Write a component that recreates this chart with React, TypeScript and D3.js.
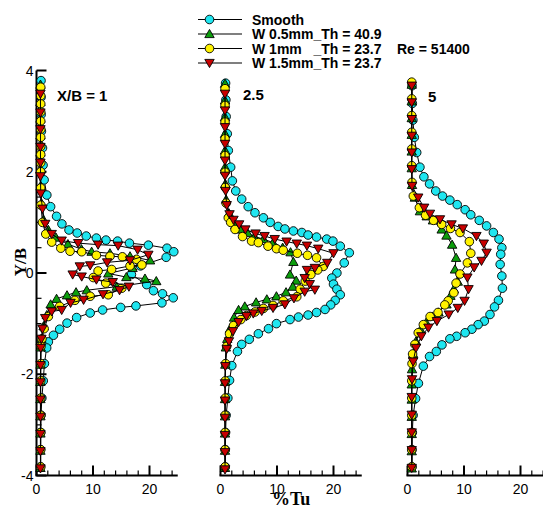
import React from "react";
import * as d3 from "d3";

type Pt = [number, number]; // [%Tu, Y/B]

// ---- tick values -------------------------------------------------------
const xMajorTicks = [0, 10, 20];
const xMinorTicks = [2, 4, 6, 8, 12, 14, 16, 18, 22, 24];
const yMajorTicks = [-4, -2, 0, 2, 4];
const yMinorTicks = [-3.5, -3, -2.5, -1.5, -1, -0.5, 0.5, 1, 1.5, 2.5, 3, 3.5];

// ---- labels -------------------------------------------------------------
const stationLabels = ["X/B = 1", "2.5", "5"];
const seriesNames = [
  "Smooth",
  "W 0.5mm_Th = 40.9",
  "W 1mm   _Th = 23.7",
  "W 1.5mm_Th = 23.7",
];
const reynoldsLabel = "Re = 51400";

// ---- X/B = 1 ------------------------------------------------------------
const smoothXB1: Pt[] = [
  [0.8, 3.8], [0.8, 3.47], [0.82, 3.13], [0.87, 2.8], [1.06, 2.47], [1.16, 2.13], [1.35, 1.84],
  [1.83, 1.54], [2.5, 1.31], [3.55, 1.12], [4.5, 0.97], [5.75, 0.85], [7.2, 0.79], [8.8, 0.73],
  [10.6, 0.69], [12.3, 0.65], [14.35, 0.63], [16.45, 0.59], [19.8, 0.55], [23.1, 0.49], [24.3, 0.42],
  [22.95, 0.31], [18.4, 0.14], [16.8, -0.03], [19.5, -0.23], [20.7, -0.35], [22.3, -0.41], [24.2, -0.49],
  [22.2, -0.59], [17.6, -0.65], [14.9, -0.68], [11.7, -0.73], [9.5, -0.79], [7.1, -0.88], [5.4, -0.99],
  [4.1, -1.11], [3.0, -1.23], [2.1, -1.36], [1.8, -1.48], [1.4, -1.79], [1.2, -2.13], [0.95, -2.47],
  [0.8, -2.81], [0.75, -3.15], [0.72, -3.49], [0.72, -3.83],
];
const w05XB1: Pt[] = [
  [0.7, 3.72], [0.7, 3.38], [0.7, 3.05], [0.7, 2.72], [0.7, 2.38], [0.7, 2.05], [0.73, 1.72],
  [0.87, 1.38], [1.25, 1.05], [2.1, 0.85], [3.45, 0.7], [5.56, 0.57], [7.95, 0.47], [9.76, 0.42],
  [13.0, 0.39], [16.55, 0.33], [20.1, 0.25], [17.0, 0.1], [12.7, -0.01], [15.9, -0.08], [19.2, -0.11],
  [21.2, -0.16], [14.2, -0.27], [8.9, -0.34], [7.0, -0.38], [5.4, -0.44], [3.55, -0.51], [2.5, -0.62],
  [1.83, -0.83], [1.25, -1.05], [0.87, -1.3], [0.75, -1.47], [0.72, -1.81], [0.7, -2.15], [0.7, -2.49],
  [0.7, -2.83], [0.7, -3.17], [0.7, -3.51], [0.7, -3.85],
];
const w10XB1: Pt[] = [
  [0.75, 3.67], [0.75, 3.5], [0.75, 3.34], [0.75, 3.18], [0.75, 3.0], [0.75, 2.84], [0.75, 2.68],
  [0.75, 2.5], [0.75, 2.34], [0.75, 2.18], [0.75, 2.0], [0.75, 1.68], [0.78, 1.34], [1.06, 1.0],
  [1.64, 0.77], [2.69, 0.61], [4.3, 0.49], [5.94, 0.43], [8.0, 0.42], [10.6, 0.35], [13.0, 0.33],
  [15.2, 0.32], [17.7, 0.27], [18.65, 0.16], [16.55, 0.14], [13.3, 0.07], [10.9, 0.04], [10.05, -0.09],
  [12.25, -0.2], [15.1, -0.3], [12.7, -0.43], [9.5, -0.46], [6.8, -0.54], [4.1, -0.66], [2.1, -0.86],
  [1.35, -1.1], [0.97, -1.3], [0.8, -1.45], [0.78, -1.79], [0.75, -2.13], [0.75, -2.47], [0.75, -2.81],
  [0.75, -3.15], [0.75, -3.49], [0.75, -3.83],
];
const w15XB1: Pt[] = [
  [0.7, 3.54], [0.7, 3.17], [0.7, 2.84], [0.7, 2.49], [0.7, 2.18], [0.7, 1.91], [0.75, 1.57],
  [1.06, 1.27], [1.54, 0.97], [2.69, 0.77], [4.46, 0.64], [7.37, 0.59], [10.9, 0.56], [14.45, 0.54],
  [17.9, 0.46], [19.8, 0.36], [16.55, 0.25], [12.5, 0.21], [9.5, 0.15], [7.66, 0.13], [6.4, -0.03],
  [8.0, -0.07], [10.6, -0.13], [13.5, -0.18], [16.36, -0.27], [14.7, -0.34], [11.77, -0.42], [8.33, -0.53],
  [6.03, -0.59], [4.46, -0.73], [2.69, -0.76], [1.54, -0.89], [1.06, -1.1], [0.87, -1.3], [0.75, -1.48],
  [0.72, -1.82], [0.7, -2.16], [0.7, -2.5], [0.7, -2.84], [0.7, -3.18], [0.7, -3.52], [0.7, -3.86],
];

// ---- X/B = 2.5 ----------------------------------------------------------
const smoothXB25: Pt[] = [
  [0.9, 3.75], [0.95, 3.42], [1.0, 3.09], [1.2, 2.75], [1.38, 2.42], [1.8, 2.09], [2.1, 1.82],
  [2.7, 1.62], [3.75, 1.46], [4.9, 1.31], [6.1, 1.19], [7.6, 1.09], [8.8, 1.0], [10.2, 0.92],
  [11.4, 0.87], [12.9, 0.83], [14.4, 0.8], [15.5, 0.75], [17, 0.71], [18.8, 0.67], [19.9, 0.63],
  [21.2, 0.53], [22.8, 0.4], [21.9, 0.2], [20.6, 0.0], [19.7, -0.1], [20, -0.22], [20.6, -0.32],
  [21.2, -0.43], [20.3, -0.54], [19.5, -0.63], [18.5, -0.72], [17, -0.78], [15.5, -0.83], [13.8, -0.87],
  [12.3, -0.92], [9.9, -1.0], [8.5, -1.1], [6.7, -1.2], [5.1, -1.31], [3.75, -1.41], [3.0, -1.55],
  [2.0, -1.83], [1.6, -2.12], [1.3, -2.47], [1.0, -2.81], [0.9, -3.15], [0.85, -3.49], [0.85, -3.83],
];
const w05XB25: Pt[] = [
  [0.8, 3.74], [0.8, 3.41], [0.8, 3.08], [0.8, 2.75], [0.8, 2.42], [0.8, 2.09], [0.85, 1.76],
  [1.0, 1.45], [1.5, 1.18], [2.6, 0.94], [3.6, 0.86], [4.8, 0.79], [6.0, 0.72], [7.6, 0.67],
  [9.3, 0.6], [11, 0.5], [12.4, 0.41], [12.9, 0.22], [12.3, -0.03], [13.4, -0.15], [12.8, -0.27],
  [11.6, -0.38], [9.9, -0.46], [8.2, -0.52], [6.3, -0.58], [4.3, -0.66], [3.2, -0.73], [2.4, -0.88],
  [1.7, -1.1], [1.2, -1.3], [0.95, -1.47], [0.85, -1.81], [0.8, -2.15], [0.8, -2.49], [0.8, -2.83],
  [0.8, -3.17], [0.8, -3.51], [0.8, -3.85],
];
const w10XB25: Pt[] = [
  [0.8, 3.64], [0.8, 3.31], [0.8, 2.98], [0.8, 2.65], [0.8, 2.32], [0.8, 1.99], [0.85, 1.69],
  [1.0, 1.38], [1.38, 1.09], [1.8, 1.0], [2.57, 0.86], [3.9, 0.72], [5.5, 0.63], [6.7, 0.6],
  [8.4, 0.53], [9.9, 0.48], [11.1, 0.45], [13.6, 0.39], [15.4, 0.35], [17.0, 0.3], [18.2, 0.13],
  [17.2, 0.06], [16, -0.03], [15, -0.16], [14.1, -0.32], [13.5, -0.47], [11.1, -0.55], [9.3, -0.64],
  [7.6, -0.7], [6.1, -0.77], [4.6, -0.84], [3.6, -0.92], [2.3, -1.04], [1.6, -1.2], [1.1, -1.45],
  [0.9, -1.79], [0.85, -2.13], [0.85, -2.47], [0.8, -2.81], [0.8, -3.15], [0.8, -3.49], [0.8, -3.83],
];
const w15XB25: Pt[] = [
  [0.8, 3.54], [0.8, 3.21], [0.8, 2.88], [0.8, 2.55], [0.8, 2.22], [0.8, 1.92], [0.9, 1.62],
  [1.1, 1.34], [1.6, 1.16], [2.3, 1.05], [3.3, 0.96], [4.4, 0.86], [6.2, 0.78], [7.8, 0.73],
  [9.6, 0.67], [11.7, 0.62], [13.5, 0.58], [15.3, 0.54], [17.3, 0.48], [20, 0.39], [18.9, 0.2],
  [16.7, 0.1], [15.3, 0.06], [14.9, -0.1], [15.8, -0.22], [16.7, -0.33], [14.9, -0.37], [13, -0.5],
  [11.4, -0.62], [9.3, -0.69], [7.3, -0.75], [5.8, -0.8], [4.6, -0.85], [3.2, -0.97], [2.2, -1.15],
  [1.5, -1.35], [1.1, -1.5], [0.85, -1.84], [0.8, -2.18], [0.8, -2.52], [0.8, -2.86], [0.8, -3.2],
  [0.8, -3.54], [0.8, -3.88],
];

// ---- X/B = 5 ------------------------------------------------------------
const smoothXB5: Pt[] = [
  [0.8, 3.7], [0.85, 3.35], [0.95, 3.02], [1.2, 2.68], [1.63, 2.38], [2.2, 2.09], [2.9, 1.9],
  [3.9, 1.76], [5.0, 1.62], [6.2, 1.52], [7.5, 1.44], [8.8, 1.35], [10.2, 1.25], [11.2, 1.15],
  [12.7, 1.04], [14.0, 0.93], [15.2, 0.8], [16.2, 0.67], [16.7, 0.5], [16.5, 0.37], [16.4, 0.17],
  [16.7, -0.06], [16.8, -0.3], [16.1, -0.54], [15.4, -0.67], [14.6, -0.82], [13.6, -0.95], [12.5, -1.02],
  [11.4, -1.11], [10.2, -1.18], [8.7, -1.25], [7.5, -1.3], [6.1, -1.42], [5.1, -1.55], [3.9, -1.65],
  [2.8, -1.84], [1.93, -2.18], [1.43, -2.48], [1.0, -2.81], [0.85, -3.15], [0.8, -3.49], [0.8, -3.83],
];
const w05XB5: Pt[] = [
  [0.75, 3.72], [0.75, 3.39], [0.75, 3.06], [0.75, 2.73], [0.75, 2.4], [0.75, 2.07], [0.8, 1.74],
  [1.3, 1.49], [2.2, 1.22], [3.4, 1.12], [4.5, 1.04], [6.05, 0.86], [6.9, 0.74], [7.9, 0.56],
  [8.6, 0.3], [8.4, 0.07], [8.9, -0.17], [8.2, -0.32], [7.6, -0.45], [6.9, -0.62], [5.5, -0.78],
  [4.4, -0.86], [3.3, -0.98], [2.3, -1.12], [1.5, -1.35], [1.0, -1.6], [0.8, -1.9], [0.75, -2.2],
  [0.75, -2.5], [0.75, -2.84], [0.75, -3.18], [0.75, -3.52], [0.75, -3.86],
];
const w10XB5: Pt[] = [
  [0.75, 3.77], [0.75, 3.44], [0.75, 3.11], [0.75, 2.78], [0.75, 2.45], [0.75, 2.12], [0.8, 1.79],
  [1.03, 1.52], [2.1, 1.29], [3.2, 1.14], [4.6, 1.04], [6.05, 0.96], [7.6, 0.88], [9.3, 0.8],
  [10.95, 0.62], [11.2, 0.39], [10.6, 0.2], [9.3, -0.02], [8.6, -0.2], [8.2, -0.39], [7.2, -0.55],
  [6.6, -0.63], [5.4, -0.78], [4.0, -0.86], [2.8, -1.02], [1.9, -1.18], [1.3, -1.41], [0.9, -1.6],
  [0.8, -1.79], [0.75, -2.13], [0.75, -2.47], [0.75, -2.81], [0.75, -3.15], [0.75, -3.49], [0.75, -3.83],
];
const w15XB5: Pt[] = [
  [0.75, 3.7], [0.75, 3.37], [0.75, 3.04], [0.75, 2.71], [0.75, 2.38], [0.75, 2.05], [0.8, 1.72],
  [1.9, 1.49], [2.95, 1.29], [3.98, 1.17], [5.75, 1.06], [7.8, 0.96], [9.8, 0.88], [12.2, 0.73],
  [13.5, 0.58], [14.0, 0.4], [13.1, 0.24], [11.8, 0.11], [10.6, -0.09], [10.8, -0.32], [10.1, -0.55],
  [8.9, -0.69], [7.3, -0.82], [5.2, -0.95], [3.7, -1.08], [2.45, -1.25], [1.5, -1.48], [1.0, -1.75],
  [0.8, -2.1], [0.75, -2.45], [0.75, -2.8], [0.75, -3.15], [0.75, -3.5], [0.75, -3.85],
];

const panelSeries: Pt[][][] = [
  [smoothXB1, w05XB1, w10XB1, w15XB1],
  [smoothXB25, w05XB25, w10XB25, w15XB25],
  [smoothXB5, w05XB5, w10XB5, w15XB5],
];

// ---- styling ------------------------------------------------------------
type MarkerKind = "circle" | "up" | "down";
const seriesStyle: { kind: MarkerKind; fill: string }[] = [
  { kind: "circle", fill: "#1fe6f0" },
  { kind: "up", fill: "#0c9e0c" },
  { kind: "circle", fill: "#fff200" },
  { kind: "down", fill: "#c80000" },
];

const W = 543;
const H = 505;
const PANEL_LEFT = [36.5, 220.5, 407.5];
const PANEL_W = 141.25;
const Y_TOP = 70.5;
const Y_BOT = 475.5;
const SANS = "Arial, 'Liberation Sans', Helvetica, sans-serif";
const SERIF = "'Times New Roman', 'Liberation Serif', Times, serif";

function Marker({ kind, x, y, fill }: { kind: MarkerKind; x: number; y: number; fill: string }) {
  if (kind === "circle") {
    return <circle cx={x} cy={y} r={4.3} fill={fill} stroke="#000" strokeWidth={0.9} />;
  }
  const d =
    kind === "up"
      ? `M${x},${y - 4.6}L${x + 4.7},${y + 3.6}L${x - 4.7},${y + 3.6}Z`
      : `M${x},${y + 4.6}L${x + 4.7},${y - 3.6}L${x - 4.7},${y - 3.6}Z`;
  return <path d={d} fill={fill} stroke="#000" strokeWidth={0.9} strokeLinejoin="miter" />;
}

export default function App() {
  const yScale = d3.scaleLinear().domain([-4, 4]).range([Y_BOT, Y_TOP]);
  const xScales = PANEL_LEFT.map((l) => d3.scaleLinear().domain([0, 25]).range([l, l + PANEL_W]));

  const legendRows = [19.5, 34, 48.5, 63];

  return (
    <svg
      width={W}
      height={H}
      viewBox={`0 0 ${W} ${H}`}
      style={{ position: "absolute", left: 0, top: 0, background: "#fff" }}
    >
      <rect x={0} y={0} width={W} height={H} fill="#fff" />

      {/* legend */}
      {seriesNames.map((name, i) => (
        <g key={name}>
          <line x1={198} x2={242} y1={legendRows[i]} y2={legendRows[i]} stroke="#000" strokeWidth={1.2} />
          <Marker kind={seriesStyle[i].kind} x={209.5} y={legendRows[i]} fill={seriesStyle[i].fill} />
          <text
            x={252}
            y={legendRows[i] + 5}
            fontFamily={SANS}
            fontWeight="bold"
            fontSize={14}
            style={{ whiteSpace: "pre" }}
          >
            {name}
          </text>
        </g>
      ))}
      <text x={397} y={legendRows[2] + 5} fontFamily={SANS} fontWeight="bold" fontSize={14}>
        {reynoldsLabel}
      </text>

      {/* y axis (first panel only) */}
      <g>
        <line x1={PANEL_LEFT[0]} x2={PANEL_LEFT[0]} y1={yScale(4)} y2={yScale(-4)} stroke="#000" strokeWidth={2} />
        {yMajorTicks.map((t) => (
          <g key={`ym${t}`}>
            <line x1={PANEL_LEFT[0]} x2={PANEL_LEFT[0] + 10} y1={yScale(t)} y2={yScale(t)} stroke="#000" strokeWidth={2} />
            <text
              x={PANEL_LEFT[0] - 3}
              y={yScale(t) + 5}
              textAnchor="end"
              fontFamily={SANS}
              fontSize={14}
            >
              {t}
            </text>
          </g>
        ))}
        {yMinorTicks.map((t) => (
          <line
            key={`yn${t}`}
            x1={PANEL_LEFT[0]}
            x2={PANEL_LEFT[0] + 5}
            y1={yScale(t)}
            y2={yScale(t)}
            stroke="#000"
            strokeWidth={1.2}
          />
        ))}
        <text
          transform={`translate(26, 262) rotate(-90)`}
          textAnchor="middle"
          fontFamily={SERIF}
          fontWeight="bold"
          fontSize={17}
        >
          Y/B
        </text>
      </g>

      {/* x axes */}
      {xScales.map((xs, p) => (
        <g key={`xa${p}`}>
          <line x1={xs(0) - 1} x2={xs(25)} y1={Y_BOT} y2={Y_BOT} stroke="#000" strokeWidth={2} />
          {xMajorTicks.map((t) => (
            <g key={`xm${t}`}>
              <line x1={xs(t)} x2={xs(t)} y1={Y_BOT} y2={Y_BOT - 10} stroke="#000" strokeWidth={2} />
              <text x={xs(t)} y={Y_BOT + 18.5} textAnchor="middle" fontFamily={SANS} fontSize={14}>
                {t}
              </text>
            </g>
          ))}
          {xMinorTicks.map((t) => (
            <line key={`xn${t}`} x1={xs(t)} x2={xs(t)} y1={Y_BOT} y2={Y_BOT - 5} stroke="#000" strokeWidth={1.2} />
          ))}
        </g>
      ))}
      <text
        x={xScales[1](12.5)}
        y={504.5}
        textAnchor="middle"
        fontFamily={SERIF}
        fontWeight="bold"
        fontSize={18}
      >
        %Tu
      </text>

      {/* station labels */}
      <text x={57} y={101} fontFamily={SANS} fontWeight="bold" fontSize={15}>
        {stationLabels[0]}
      </text>
      <text x={243} y={100} fontFamily={SANS} fontWeight="bold" fontSize={15}>
        {stationLabels[1]}
      </text>
      <text x={428} y={102} fontFamily={SANS} fontWeight="bold" fontSize={15}>
        {stationLabels[2]}
      </text>

      {/* profiles */}
      {panelSeries.map((seriesList, p) => {
        const xs = xScales[p];
        const line = d3
          .line<Pt>()
          .x((d) => xs(d[0]))
          .y((d) => yScale(d[1]));
        return (
          <g key={`panel${p}`}>
            {seriesList.map((pts, s) => (
              <g key={`s${s}`}>
                <path d={line(pts) || ""} fill="none" stroke="#000" strokeWidth={1} />
                {pts.map((d, k) => (
                  <Marker
                    key={k}
                    kind={seriesStyle[s].kind}
                    x={xs(d[0])}
                    y={yScale(d[1])}
                    fill={seriesStyle[s].fill}
                  />
                ))}
              </g>
            ))}
          </g>
        );
      })}
    </svg>
  );
}
